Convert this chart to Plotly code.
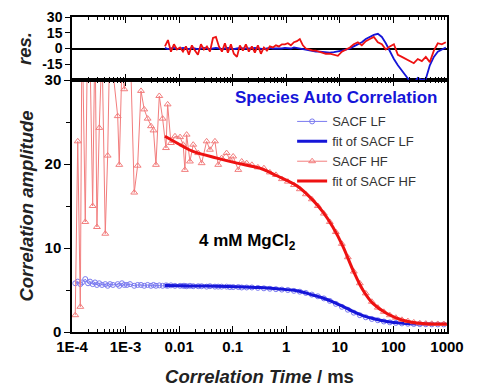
import plotly.graph_objects as go

# ---------------- data ----------------
t_data = [1.15e-4, 1.28e-4, 1.43e-4, 1.54e-4, 1.77e-4, 1.99e-4, 2.17e-4, 2.43e-4, 2.69e-4, 2.92e-4,
          3.23e-4, 3.63e-4, 4.18e-4, 4.63e-4, 5.12e-4, 5.82e-4, 7.13e-4, 7.62e-4, 8.57e-4, 9.46e-4,
          1.06e-3, 1.21e-3, 1.45e-3, 1.68e-3, 1.94e-3, 2.23e-3, 2.58e-3, 2.98e-3, 3.32e-3, 3.69e-3,
          4.26e-3, 4.92e-3, 5.68e-3, 6.10e-3, 7.03e-3, 8.36e-3, 1.04e-2, 1.19e-2, 1.28e-2, 1.38e-2,
          1.59e-2, 1.83e-2, 2.27e-2, 2.63e-2, 3.26e-2, 3.76e-2, 4.66e-2, 5.36e-2, 6.21e-2, 7.69e-2,
          8.87e-2, 0.102, 0.127, 0.147, 0.182, 0.228, 0.295, 0.382, 0.494, 0.640,
          0.828, 1.07, 1.39, 1.79, 2.32, 3.00, 3.89, 5.03, 6.50, 8.42,
          10.9, 14.1, 18.2, 23.6, 30.5, 39.5, 51.2, 66.2, 85.7, 111,
          144, 186, 240, 311, 402, 520, 673, 871]

sacf_lf = [5.8, 6.0, 5.7, 5.9, 6.3, 5.8, 6.0, 5.7, 5.9, 5.6,
           5.8, 5.6, 5.7, 5.5, 5.7, 5.6, 5.7, 5.5, 5.8, 5.6,
           5.6, 5.7, 5.5, 5.6, 5.6, 5.5, 5.6, 5.5, 5.6, 5.5,
           5.55, 5.5, 5.55, 5.5, 5.55, 5.5, 5.5, 5.5, 5.5, 5.45,
           5.5, 5.45, 5.45, 5.45, 5.4, 5.45, 5.4, 5.4, 5.4, 5.4,
           5.35, 5.35, 5.35, 5.3, 5.3, 5.3, 5.25, 5.2, 5.15, 5.1,
           5.05, 5.0, 4.9, 4.8, 4.65, 4.45, 4.25, 4.0, 3.7, 3.35,
           3.0, 2.65, 2.3, 2.0, 1.75, 1.55, 1.4, 1.25, 1.15, 1.08,
           1.02, 0.98, 0.95, 0.93, 0.92, 0.91, 0.9, 0.9]

sacf_hf = [2.0, 22.7, 3.0, 38, 13.1, 40, 33, 15.0, 36, 12.5,
           24.3, 34, 11.7, 21.0, 36, 31, 25.7, 19.9, 32, 28.9,
           31, 35, 16.6, 19.8, 28.7, 26.5, 25.4, 24.5, 24.0, 19.9,
           28.1, 25.4, 21.9, 27.1, 22.5, 23.3, 23.2, 22.3, 19.3, 23.5,
           20.3, 22.3, 21.3, 20.1, 22.7, 21.7, 22.7, 19.9, 20.7, 21.3,
           20.5, 20.9, 19.3, 20.3, 20.1, 19.9, 19.6, 19.5, 19.0, 18.7,
           18.2, 17.9, 17.5, 17.0, 16.4, 15.8, 15.0, 14.1, 13.1, 11.9,
           10.5, 8.9, 7.2, 5.8, 4.6, 3.6, 2.9, 2.4, 2.0, 1.7,
           1.45, 1.3, 1.15, 1.05, 1.0, 0.98, 0.96, 0.95]

t_fit = [5.43e-3, 1.18e-2, 1.81e-2, 5.07e-2, 0.120, 0.321, 0.668, 1.58, 3.13, 4.82,
         7.40, 11.4, 17.5, 26.9, 41.3, 75.3, 150, 354, 990]
fit_lf = [5.55, 5.5, 5.48, 5.45, 5.4, 5.3, 5.15, 4.9, 4.4, 4.05,
          3.6, 3.05, 2.45, 1.95, 1.6, 1.25, 1.05, 0.95, 0.9]
fit_hf = [23.3, 22.1, 21.5, 20.7, 20.1, 19.5, 18.6, 17.4, 15.7, 14.3,
          12.5, 10.2, 7.4, 5.0, 3.4, 2.2, 1.4, 1.0, 0.95]

t_res = [5.43e-3, 6.18e-3, 7.03e-3, 8.00e-3, 9.10e-3, 1.04e-2, 1.18e-2, 1.34e-2, 1.52e-2, 1.73e-2,
         1.97e-2, 2.24e-2, 2.55e-2, 2.90e-2, 3.30e-2, 3.76e-2, 4.28e-2, 4.86e-2, 5.53e-2, 6.30e-2,
         7.15e-2, 8.13e-2, 9.25e-2, 0.105, 0.120, 0.136, 0.155, 0.176, 0.200, 0.228,
         0.259, 0.295, 0.336, 0.382, 0.435, 0.494, 0.562, 0.640, 0.728, 0.828,
         0.942, 1.07, 1.22, 1.39, 1.58, 1.79, 2.04, 2.32, 2.75,
         3.13, 3.57, 4.24, 4.82, 5.48, 6.50, 7.73, 9.18, 10.9, 12.9,
         15.4, 18.2, 21.7, 25.7, 30.5, 36.3, 43.1, 51.2, 60.8, 72.1,
         85.7, 102, 121, 144, 170, 202, 240, 285, 339, 402,
         478, 568, 673, 800, 950]
res_hf = [2, 8, -3, 4, -1, 1, -3, 2, -6, 3,
          -2, -6, 4, -1, 2, -3, 10, 11, 2, -3,
          5, -4, 4, -5, -8, 3, -2, 4, -3, 2,
          -4, 3, -5, 1, -2, 2, 1, 3, 2, 4,
          4, 5, 3, 6, 7, 9, 3, 0, -1,
          -2, -2, -3, -4, -5, -5, -6, -7, -3, -1,
          1, 4, 6, 3, 7, 9, 11, 6, 4, -1,
          2, 4, -6, -8, -10, -12, -14, -10, -12, -8,
          -13, -2, 5, 4, 6]
res_lf = [0.5, -0.5, 0, 0.5, -0.5, 0, 0.5, 0, -0.5, 0.5,
          0, -0.5, 0, 0.5, 0, -0.5, 0, 0.5, 0, -0.5,
          0, 0.5, 0, -0.5, 0, 0.5, 0, 0, -0.5, 0,
          0.5, 0, 0, -0.5, 0, 0.5, 0, 0, -0.5, 0,
          0.5, 0.5, 0, 1, 0.5, 0, -1, -1.5, -2,
          -2, -3, -3, -3.5, -4, -4, -3.5, -3, -2, -1,
          0, 2, 4, 6, 9, 11, 13, 14, 11, 5,
          -3, -10, -16, -21, -26, -31, -33, -28, -30, -29,
          -16, -8, -3, -1, 1]

x_tickvals = [1e-4, 1e-3, 0.01, 0.1, 1, 10, 100, 1000]
x_ticktext = ["1E-4", "1E-3", "0.01", "0.1", "1", "10", "100", "1000"]
y_tickvals = [0, 10, 20, 30]
res_tickvals = [30, 15, 0, -15]
res_ticktext = ["30", "15", "0", "-15"]

# ---------------- styling ----------------
FONT = "Liberation Sans, Arial, sans-serif"
RED = "#ee1111"
BLUE = "#1515d8"
PINK = "#f27d7d"
LBLUE = "#7a7af0"

minor_vals = [m * 10 ** e for e in range(-4, 3) for m in range(2, 10)]

fig = go.Figure()

fig.add_trace(go.Scatter(x=t_data, y=sacf_lf, name="SACF LF", mode="lines+markers",
                         line=dict(color=LBLUE, width=1),
                         marker=dict(symbol="circle-open", size=5, color=LBLUE, line=dict(width=1)),
                         xaxis="x", yaxis="y"))
fig.add_trace(go.Scatter(x=t_fit, y=fit_lf, name="fit of SACF LF", mode="lines",
                         line=dict(color=BLUE, width=3, shape="spline"),
                         xaxis="x", yaxis="y"))
fig.add_trace(go.Scatter(x=t_data, y=sacf_hf, name="SACF HF", mode="lines+markers",
                         line=dict(color=PINK, width=1),
                         marker=dict(symbol="triangle-up-open", size=6, color=PINK, line=dict(width=1)),
                         xaxis="x", yaxis="y"))
fig.add_trace(go.Scatter(x=t_fit, y=fit_hf, name="fit of SACF HF", mode="lines",
                         line=dict(color=RED, width=3, shape="spline"),
                         xaxis="x", yaxis="y"))

fig.add_trace(go.Scatter(x=t_res, y=res_lf, mode="lines", showlegend=False,
                         line=dict(color=BLUE, width=1.8), xaxis="x2", yaxis="y2"))
fig.add_trace(go.Scatter(x=t_res, y=res_hf, mode="lines", showlegend=False,
                         line=dict(color=RED, width=1.8), xaxis="x2", yaxis="y2"))

tickfont = dict(family=FONT, size=15, color="black", weight="bold")
restickfont = dict(family=FONT, size=14, color="black", weight="bold")

xcommon = dict(type="log", range=[-4, 3.0], tickmode="array", tickvals=x_tickvals,
               showline=True, linecolor="black", linewidth=1.5, mirror="ticks",
               ticks="inside", ticklen=6, tickwidth=1.3, tickcolor="black",
               minor=dict(tickmode="array", tickvals=minor_vals, ticks="inside",
                          ticklen=3, tickwidth=1, tickcolor="black", showgrid=False),
               showgrid=False, zeroline=False, automargin=False)

# page body adds an 8px offset, so the figure is 8px smaller and margins shifted
fig.update_layout(
    width=469, height=380,
    margin=dict(l=64, r=30, t=9, b=56),
    paper_bgcolor="white", plot_bgcolor="white",
    font=dict(family=FONT, color="black"),
    xaxis=dict(**xcommon, domain=[0, 1], anchor="y", ticktext=x_ticktext, tickfont=tickfont,
               title=dict(text="<b><i>Correlation Time</i> / ms</b>",
                          font=dict(family=FONT, size=18.5, color="#222"), standoff=16)),
    yaxis=dict(domain=[0, 0.8], anchor="x", range=[0, 30], tickmode="array", tickvals=y_tickvals,
               tickfont=tickfont, showline=True, linecolor="black", linewidth=1.5, mirror=True,
               ticks="outside", ticklen=6, tickwidth=1.3, tickcolor="black",
               minor=dict(dtick=5, ticks="outside", ticklen=4, tickwidth=1, tickcolor="black", showgrid=False),
               showgrid=False, zeroline=False, automargin=False,
               title=dict(text="<b><i>Correlation amplitude</i></b>",
                          font=dict(family=FONT, size=18.5, color="#222"), standoff=6)),
    xaxis2=dict(**xcommon, domain=[0, 1], anchor="y2", matches="x", showticklabels=False),
    yaxis2=dict(domain=[0.8, 1.0], anchor="x2", range=[-30, 30], tickmode="array",
                tickvals=res_tickvals, ticktext=res_ticktext, tickfont=restickfont,
                showline=True, linecolor="black", linewidth=1.5, mirror=True,
                ticks="outside", ticklen=5, tickwidth=1.3, tickcolor="black",
                showgrid=False, zeroline=True, zerolinecolor="black", zerolinewidth=1.5,
                automargin=False,
                title=dict(text="<b><i>res.</i></b>", font=dict(family=FONT, size=18.5, color="#222"),
                           standoff=6)),
    legend=dict(x=0.587, y=0.716, xanchor="left", yanchor="top", bgcolor="rgba(0,0,0,0)",
                font=dict(family=FONT, size=13, color="#333"), tracegroupgap=0, itemwidth=30),
    showlegend=True,
    annotations=[
        dict(text="<b>Species Auto Correlation</b>", xref="paper", yref="paper",
             x=(336 - 72) / 375, y=(332 - 97) / 315, xanchor="center", yanchor="middle",
             showarrow=False, font=dict(family=FONT, size=17, color=BLUE)),
        dict(text="<b>4 mM MgCl<sub>2</sub></b>", xref="paper", yref="paper",
             x=(247 - 72) / 375, y=(332 - 242) / 315, xanchor="center", yanchor="middle",
             showarrow=False, font=dict(family=FONT, size=17, color="black")),
    ],
)

fig.write_html("out.html")
